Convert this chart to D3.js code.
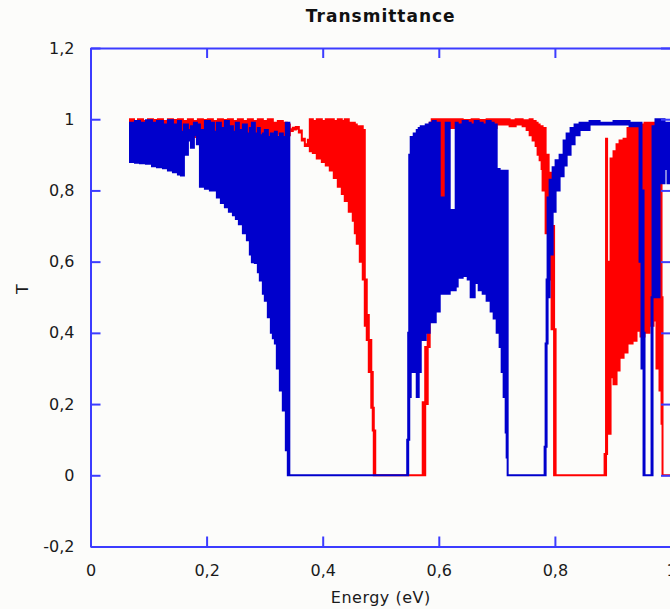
<!DOCTYPE html>
<html><head><meta charset="utf-8">
<script src="https://cdn.jsdelivr.net/npm/d3@7"></script>
<style>html,body{margin:0;padding:0;background:#fcfcfa;} svg{display:block}</style>
</head><body><svg id="c" width="670" height="609"></svg>
<script>
// ---- data: energy (eV), lower and upper envelope of T ----
const blueE = [0.0680,0.0766,0.0852,0.0955,0.1059,0.1145,0.1248,0.1334,0.1420,0.1506,
 0.1558,0.1609,0.1678,0.1730,0.1781,0.1833,0.1885,0.1971,0.2057,0.2126,
 0.2177,0.2246,0.2315,0.2384,0.2453,0.2504,0.2556,0.2625,0.2694,0.2745,
 0.2780,0.2831,0.2883,0.2917,0.2969,0.3003,0.3055,0.3107,0.3141,0.3176,
 0.3210,0.3262,0.3313,0.3365,0.3399,0.3425,
 0.5456,0.5473,0.5491,0.5516,0.5568,0.5620,0.5654,0.5689,0.5775,0.5843,
 0.5895,0.5947,0.6016,0.6119,0.6188,0.6291,0.6325,0.6411,0.6498,0.6549,
 0.6618,0.6687,0.6756,0.6824,0.6893,0.6945,0.6997,0.7048,0.7083,0.7117,
 0.7152,0.7169,0.7186,
 0.7823,0.7840,0.7857,0.7874,0.7909,0.7961,0.8012,0.8081,0.8150,0.8202,
 0.8270,0.8339,0.8425,0.8597,0.8770,0.9010,0.9286,0.9458,0.9492,0.9527,
 0.9544,0.9665,0.9682,0.9733,0.9802,0.9888,0.9940,0.9991];
const blueLo = [0.88,0.878,0.876,0.875,0.868,0.865,0.862,0.856,0.851,0.845,
 0.842,0.90,0.94,0.92,0.955,0.93,0.81,0.805,0.80,0.80,
 0.78,0.765,0.753,0.74,0.73,0.72,0.705,0.68,0.66,0.62,
 0.598,0.596,0.57,0.547,0.51,0.49,0.444,0.40,0.385,0.37,
 0.30,0.238,0.182,0.07,0,0,
 0,0.10,0.22,0.29,0.29,0.22,0.29,0.38,0.40,0.43,
 0.43,0.46,0.51,0.51,0.52,0.53,0.555,0.56,0.55,0.50,
 0.54,0.52,0.51,0.49,0.46,0.44,0.40,0.36,0.29,0.22,
 0.12,0.05,0,
 0,0.08,0.37,0.50,0.62,0.74,0.80,0.84,0.87,0.90,
 0.93,0.955,0.97,0.985,0.985,0.985,0.98,0.60,0.30,0,
 0,0,0.50,0.50,0.82,0.86,0.82,0.82];
const blueHi = [0.99,0.995,0.99,0.997,0.99,0.995,0.985,0.997,0.985,0.995,
 0.965,0.985,0.97,0.98,0.99,0.985,0.97,0.995,0.99,0.965,
 0.99,0.975,0.995,0.98,0.965,0.99,0.97,0.985,0.96,0.975,
 0.99,0.96,0.975,0.955,0.96,0.97,0.95,0.96,0.955,0.965,
 0.95,0.96,0.95,0.99,0.99,0,
 0.10,0.40,0.90,0.95,0.96,0.97,0.975,0.98,0.985,0.99,
 0.995,0.99,0.78,0.99,0.745,0.99,0.985,0.995,0.99,0.985,
 0.995,0.99,0.985,0.995,0.99,0.985,0.86,0.855,0.855,0.855,
 0.855,0.855,0,
 0.08,0.37,0.55,0.78,0.83,0.865,0.885,0.90,0.94,0.96,
 0.975,0.985,0.99,0.995,0.99,0.995,0.99,0.99,0.80,0.40,
 0,0.50,0.98,1.0,1.0,0.99,0.99,0.99];

const redE = [0.0680,0.0749,0.0818,0.0904,0.0990,0.1076,0.1162,0.1248,0.1334,0.1420,
 0.1506,0.1592,0.1678,0.1764,0.1850,0.1936,0.2022,0.2108,0.2195,0.2281,
 0.2367,0.2453,0.2539,0.2625,0.2711,0.2797,0.2883,0.2969,0.3055,0.3141,
 0.3227,0.3313,0.3382,0.3434,0.3485,0.3537,0.3589,0.3640,0.3692,0.3744,
 0.3778,0.3830,0.3898,0.3985,0.4053,0.4122,0.4191,0.4260,0.4329,0.4380,
 0.4449,0.4518,0.4553,0.4587,0.4639,0.4690,0.4725,0.4759,0.4794,0.4837,
 0.4862,0.4880,0.4905,
 0.5723,0.5766,0.5809,0.5843,0.5878,0.5947,0.6016,0.6119,0.6291,0.6411,
 0.6566,0.6687,0.6824,0.6997,0.7220,0.7324,0.7444,0.7513,0.7565,0.7616,
 0.7668,0.7702,0.7737,0.7771,0.7788,0.7840,0.7892,0.7943,0.7986,0.8012,
 0.8856,0.8881,0.8899,0.8959,0.9010,0.9062,0.9114,0.9183,0.9251,0.9338,
 0.9406,0.9475,0.9544,0.9630,0.9699,0.9750,0.9802,0.9837,0.9854,0.9991];
const redLo = [0.975,0.97,0.98,0.965,0.975,0.97,0.98,0.965,0.975,0.96,
 0.97,0.955,0.965,0.95,0.97,0.955,0.965,0.95,0.96,0.955,
 0.945,0.96,0.95,0.94,0.95,0.945,0.955,0.96,0.95,0.955,
 0.96,0.95,0.955,0.967,0.971,0.973,0.963,0.94,0.925,0.937,
 0.91,0.905,0.89,0.88,0.87,0.856,0.835,0.81,0.79,0.77,
 0.74,0.715,0.68,0.65,0.60,0.55,0.42,0.38,0.29,0.19,
 0.126,0,0,
 0,0.2,0.36,0.49,0.96,0.90,0.76,0.975,0.985,0.975,
 0.965,0.98,0.975,0.985,0.98,0.985,0.98,0.97,0.955,0.94,
 0.925,0.90,0.885,0.86,0.80,0.68,0.55,0.41,0,0,
 0,0.06,0.117,0.275,0.256,0.294,0.33,0.345,0.37,0.378,
 0.406,0.39,0.40,0.42,0.435,0.30,0.238,0.145,0,0];
const redHi = [1.0,0.995,1.0,0.995,1.0,0.998,1.0,0.995,1.0,0.998,
 1.0,0.995,1.0,0.995,1.0,0.998,1.0,0.995,1.0,0.998,
 1.0,0.995,1.0,0.995,1.0,0.995,1.0,0.995,1.0,0.99,
 0.995,0.99,0.985,0.972,0.976,0.978,0.968,0.945,0.930,0.942,
 1.0,0.995,1.0,0.995,1.0,1.0,0.995,1.0,0.995,1.0,
 0.99,0.99,0.985,0.98,0.98,0.97,0.55,0.45,0.38,0.29,
 0.19,0.126,0,
 0.205,0.36,0.49,0.99,1.0,1.0,1.0,1.0,1.0,0.998,
 1.0,0.998,1.0,1.0,0.997,1.0,0.997,0.997,1.0,0.995,
 0.99,0.985,0.98,0.98,0.975,0.90,0.85,0.70,0.41,0,
 0.06,0.945,0.60,0.89,0.91,0.93,0.94,0.945,0.975,0.977,
 0.98,0.985,0.99,0.99,0.99,0.96,0.85,0.5,0,0];

const xTicks = [0,0.2,0.4,0.6,0.8,1];
const xTickLabels = ["0","0,2","0,4","0,6","0,8","1"];
const yTicks = [-0.2,0,0.2,0.4,0.6,0.8,1,1.2];
const yTickLabels = ["-0,2","0","0,2","0,4","0,6","0,8","1","1,2"];
const titleText = "Transmittance";
const xTitle = "Energy (eV)";
const yTitle = "T";

// ---- drawing ----
const svg = d3.select("#c");
const L = 90.5, R = 671, T0 = 48, B = 546.5;
const x = d3.scaleLinear().domain([0,1]).range([L,R]);
const y = d3.scaleLinear().domain([-0.2,1.2]).range([B,T0]);

svg.append("rect").attr("width",670).attr("height",609).attr("fill","#fcfcfa");

svg.append("defs").append("clipPath").attr("id","clip")
  .append("rect").attr("x",L).attr("y",T0).attr("width",R-L).attr("height",B-T0);

const build = (E,lo,hi) => E.map((e,i)=>({e, lo:lo[i], hi:hi[i]}));
const area = d3.area().x(d=>x(d.e)).y0(d=>y(d.lo)).y1(d=>y(d.hi)).curve(d3.curveStepAfter);

const g = svg.append("g").attr("clip-path","url(#clip)");
[[build(redE,redLo,redHi),"#ff0000"],[build(blueE,blueLo,blueHi),"#0000cc"]].forEach(([data,col])=>{
  g.append("path").datum(data).attr("d",area)
    .attr("fill",col).attr("stroke",col).attr("stroke-width",2).attr("stroke-linejoin","miter");
});

const frameCol = "#3c3cff";
const fmtX = (d,i)=>xTickLabels[i], fmtY=(d,i)=>yTickLabels[i];
const styleAxis = sel => {
  sel.selectAll(".domain").attr("stroke",frameCol).attr("stroke-width",2);
  sel.selectAll(".tick line").attr("stroke",frameCol).attr("stroke-width",2);
  sel.selectAll("text").attr("fill","#1a1a1a").style("font-family","'DejaVu Sans', sans-serif").style("font-size","16px");
};
svg.append("g").attr("transform",`translate(0,${B})`)
  .call(d3.axisBottom(x).tickValues(xTicks).tickFormat(fmtX).tickSizeInner(-10).tickSizeOuter(0).tickPadding(18))
  .call(styleAxis);
svg.append("g").attr("transform",`translate(0,${T0})`)
  .call(d3.axisTop(x).tickValues(xTicks).tickFormat("").tickSizeInner(-10).tickSizeOuter(0))
  .call(styleAxis);
svg.append("g").attr("transform",`translate(${L},0)`)
  .call(d3.axisLeft(y).tickValues(yTicks).tickFormat(fmtY).tickSizeInner(-10).tickSizeOuter(0).tickPadding(16))
  .call(styleAxis);
svg.append("g").attr("transform",`translate(${R},0)`)
  .call(d3.axisRight(y).tickValues(yTicks).tickFormat("").tickSizeInner(-10).tickSizeOuter(0))
  .call(styleAxis);

svg.append("text").attr("x",(L+R)/2).attr("y",22).attr("text-anchor","middle")
  .style("font-family","'DejaVu Sans', sans-serif").style("font-weight","bold").style("font-size","17px")
  .style("letter-spacing","1px").attr("fill","#111").text(titleText);
svg.append("text").attr("x",(L+R)/2).attr("y",603).attr("text-anchor","middle")
  .style("font-family","'DejaVu Sans', sans-serif").style("font-size","16px").style("letter-spacing","0.5px")
  .attr("fill","#1a1a1a").text(xTitle);
svg.append("text").attr("transform","translate(28,289) rotate(-90)").attr("text-anchor","middle")
  .style("font-family","'DejaVu Sans', sans-serif").style("font-size","16px")
  .attr("fill","#1a1a1a").text(yTitle);
</script></body></html>
